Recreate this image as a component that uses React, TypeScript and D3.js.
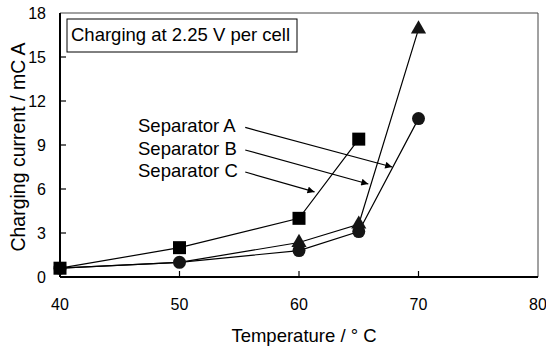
import React from "react";
import * as d3 from "d3";

const temps = [40, 50, 60, 65, 70];
const sepA = [0.6, 1.0, 1.8, 3.1, 10.8]; // circles
const sepB = [0.6, 1.0, 2.35, 3.6, 16.9]; // triangles
const sepCTemps = [40, 50, 60, 65];
const sepC = [0.6, 2.0, 4.0, 9.4]; // squares
const xTicks = [40, 50, 60, 70, 80];
const yTicks = [0, 3, 6, 9, 12, 15, 18];
const labels = ["Separator A", "Separator B", "Separator C"];
// arrow start / end in data units
const arrowStarts = [[55.5, 10.2], [55.5, 8.66], [55.5, 7.16]];
const arrowEnds = [[67.8, 7.5], [65.8, 6.34], [61.3, 5.8]];

const W = 546, H = 346;
const L = 60, R = 538, T = 13, B = 277;
const font = "Liberation Sans, Arial, Helvetica, sans-serif";

export default function App() {
  const x = d3.scaleLinear().domain([40, 80]).range([L, R]);
  const y = d3.scaleLinear().domain([0, 18]).range([B, T]);
  const line = d3.line<[number, number]>().x(d => x(d[0])).y(d => y(d[1]));
  const ptsA = temps.map((t, i) => [t, sepA[i]] as [number, number]);
  const ptsB = temps.map((t, i) => [t, sepB[i]] as [number, number]);
  const ptsC = sepCTemps.map((t, i) => [t, sepC[i]] as [number, number]);
  const tri = d3.symbol().type(d3.symbolTriangle).size(100)();
  const col = "#151515";

  return (
    <svg width={W} height={H} style={{ position: "absolute", left: 0, top: 0, background: "#fff" }} fontFamily={font}>
      <defs>
        <marker id="ah" viewBox="0 0 10 10" refX="10" refY="5" markerWidth="9" markerHeight="7" orient="auto" markerUnits="userSpaceOnUse">
          <path d="M0,0 L10,5 L0,10 z" fill="#000" />
        </marker>
      </defs>
      {/* frame */}
      <line x1={L} x2={R} y1={T} y2={T} stroke="#444" strokeWidth={1} />
      <line x1={R} x2={R} y1={T} y2={B} stroke="#444" strokeWidth={1} />
      <line x1={L} x2={L} y1={T} y2={B} stroke="#000" strokeWidth={2} />
      <line x1={L} x2={R} y1={B} y2={B} stroke="#000" strokeWidth={2} />
      {/* y ticks */}
      {yTicks.map(t => (
        <g key={"y" + t}>
          {t > 0 && t < 18 && <line x1={L} x2={L + 6} y1={y(t)} y2={y(t)} stroke="#000" strokeWidth={1.2} />}
          <text x={46} y={y(t)} dy="0.35em" textAnchor="end" fontSize={16}>{t}</text>
        </g>
      ))}
      {/* x ticks */}
      {xTicks.map(t => (
        <g key={"x" + t}>
          {t > 40 && t < 80 && <line x1={x(t)} x2={x(t)} y1={B} y2={B - 6} stroke="#000" strokeWidth={1.2} />}
          <text x={x(t)} y={310} textAnchor="middle" fontSize={16}>{t}</text>
        </g>
      ))}
      <text x={304} y={342} textAnchor="middle" fontSize={18.5}>Temperature / ° C</text>
      <text transform={`translate(25,147) rotate(-90)`} textAnchor="middle" fontSize={19.5}>Charging current / mC A</text>
      {/* legend box */}
      <rect x={67} y={19} width={230} height={33} fill="#fff" stroke="#000" strokeWidth={1} />
      <text x={71} y={41} fontSize={18.5}>Charging at 2.25 V per cell</text>
      {/* lines */}
      <path d={line(ptsC) || ""} fill="none" stroke="#000" strokeWidth={1.2} />
      <path d={line(ptsB) || ""} fill="none" stroke="#000" strokeWidth={1.2} />
      <path d={line(ptsA) || ""} fill="none" stroke="#000" strokeWidth={1.2} />
      {/* markers */}
      {ptsA.map((p, i) => <circle key={"a" + i} cx={x(p[0])} cy={y(p[1])} r={6.5} fill={col} />)}
      {ptsB.filter(p => p[0] !== 40 && p[0] !== 50).map((p, i) => (
        <path key={"b" + i} d={tri || ""} transform={`translate(${x(p[0])},${y(p[1])})`} fill={col} />
      ))}
      {ptsC.map((p, i) => <rect key={"c" + i} x={x(p[0]) - 6.5} y={y(p[1]) - 6.5} width={13} height={13} fill="#000" />)}
      {/* annotations */}
      {labels.map((lab, i) => (
        <g key={lab}>
          <text x={138} y={132 + i * 22.5} fontSize={18.5}>{lab}</text>
          <line x1={x(arrowStarts[i][0])} y1={y(arrowStarts[i][1])} x2={x(arrowEnds[i][0])} y2={y(arrowEnds[i][1])}
            stroke="#000" strokeWidth={1.2} markerEnd="url(#ah)" />
        </g>
      ))}
    </svg>
  );
}
